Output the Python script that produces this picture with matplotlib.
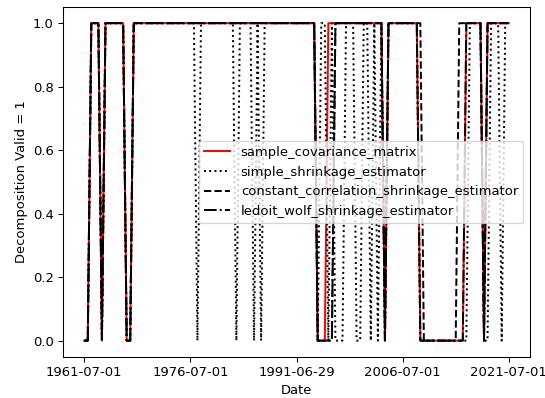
import matplotlib
matplotlib.use("Agg")
import matplotlib.pyplot as plt
import numpy as np

# Semi-annual observation index (121 observations, 1961-07-01 .. 2021-07-01)
n_obs = 121
tick_positions = [0, 30, 60, 90, 120]
tick_labels = ["1961-07-01", "1976-07-01", "1991-06-29", "2006-07-01", "2021-07-01"]

series_names = ["sample_covariance_matrix", "simple_shrinkage_estimator",
                "constant_correlation_shrinkage_estimator", "ledoit_wolf_shrinkage_estimator"]

sample_covariance_matrix = [
    0, 0, 1, 1, 1, 0, 1, 1, 1, 1,
    1, 1, 0, 0, 1, 1, 1, 1, 1, 1,
    1, 1, 1, 1, 1, 1, 1, 1, 1, 1,
    1, 1, 1, 1, 1, 1, 1, 1, 1, 1,
    1, 1, 1, 1, 1, 1, 1, 1, 1, 1,
    1, 1, 1, 1, 1, 1, 1, 1, 1, 1,
    1, 1, 1, 1, 1, 1, 0, 0, 0, 1,
    1, 1, 1, 1, 1, 1, 1, 1, 1, 1,
    1, 1, 1, 1, 1, 0, 1, 1, 1, 1,
    1, 1, 1, 1, 1, 0, 0, 0, 0, 0,
    0, 0, 0, 0, 0, 0, 0, 0, 1, 1,
    1, 1, 1, 0, 1, 1, 1, 1, 1, 1, 1,
]

simple_shrinkage_estimator = [
    0, 0, 1, 1, 1, 0, 1, 1, 1, 1,
    1, 1, 0, 0, 1, 1, 1, 1, 1, 1,
    1, 1, 1, 1, 1, 1, 1, 1, 1, 1,
    1, 1, 0, 1, 1, 1, 1, 1, 1, 1,
    1, 1, 1, 0, 1, 1, 1, 1, 0, 1,
    0, 1, 1, 1, 1, 1, 1, 1, 1, 1,
    1, 1, 1, 1, 1, 1, 0, 1, 1, 0,
    1, 0, 0, 0, 1, 1, 1, 0, 0, 1,
    1, 0, 1, 0, 1, 0, 1, 1, 1, 1,
    1, 1, 1, 1, 1, 0, 0, 0, 0, 0,
    0, 0, 0, 0, 0, 0, 0, 0, 0, 1,
    1, 1, 1, 0, 0, 1, 1, 1, 0, 1, 1,
]

constant_correlation_shrinkage_estimator = [
    0, 0, 1, 1, 1, 0, 1, 1, 1, 1,
    1, 1, 0, 0, 1, 1, 1, 1, 1, 1,
    1, 1, 1, 1, 1, 1, 1, 1, 1, 1,
    1, 1, 1, 1, 1, 1, 1, 1, 1, 1,
    1, 1, 1, 1, 1, 1, 1, 1, 1, 1,
    1, 1, 1, 1, 1, 1, 1, 1, 1, 1,
    1, 1, 1, 1, 1, 1, 0, 0, 0, 0,
    0, 1, 1, 1, 1, 1, 1, 1, 1, 1,
    1, 1, 1, 1, 1, 0, 1, 1, 1, 1,
    1, 1, 1, 1, 1, 1, 0, 0, 0, 0,
    0, 0, 0, 0, 0, 0, 1, 1, 1, 1,
    1, 1, 1, 0, 1, 1, 1, 1, 1, 1, 1,
]

ledoit_wolf_shrinkage_estimator = [
    0, 0, 1, 1, 1, 0, 1, 1, 1, 1,
    1, 1, 0, 0, 1, 1, 1, 1, 1, 1,
    1, 1, 1, 1, 1, 1, 1, 1, 1, 1,
    1, 1, 1, 1, 1, 1, 1, 1, 1, 1,
    1, 1, 1, 1, 1, 1, 1, 1, 1, 1,
    1, 1, 1, 1, 1, 1, 1, 1, 1, 1,
    1, 1, 1, 1, 1, 1, 0, 0, 0, 0,
    0, 1, 1, 1, 1, 1, 1, 1, 1, 1,
    1, 1, 1, 1, 1, 0, 1, 1, 1, 1,
    1, 1, 1, 1, 1, 0, 0, 0, 0, 0,
    0, 0, 0, 0, 0, 0, 0, 0, 1, 1,
    1, 1, 1, 0, 1, 1, 1, 1, 1, 1, 1,
]

DPI = 94.7
fig = plt.figure(figsize=(545 / DPI, 398 / DPI), dpi=DPI)
ax = fig.add_subplot(111)
fig.subplots_adjust(left=63 / 545, right=530 / 545, top=1 - 7.3 / 398, bottom=1 - 356.5 / 398)

x = np.arange(n_obs)
ax.plot(x, sample_covariance_matrix, color="red", linestyle="-", label=series_names[0])
ax.plot(x, simple_shrinkage_estimator, color="black", linestyle=":", label=series_names[1])
ax.plot(x, constant_correlation_shrinkage_estimator, color="black", linestyle="--", label=series_names[2])
ax.plot(x, ledoit_wolf_shrinkage_estimator, color="black", linestyle="-.", label=series_names[3])

ax.set_xticks(tick_positions)
ax.set_xticklabels(tick_labels)
ax.set_xlabel("Date")
ax.set_ylabel("Decomposition Valid = 1")
ax.legend(loc="center right")

fig.savefig("out.png", dpi=DPI)
